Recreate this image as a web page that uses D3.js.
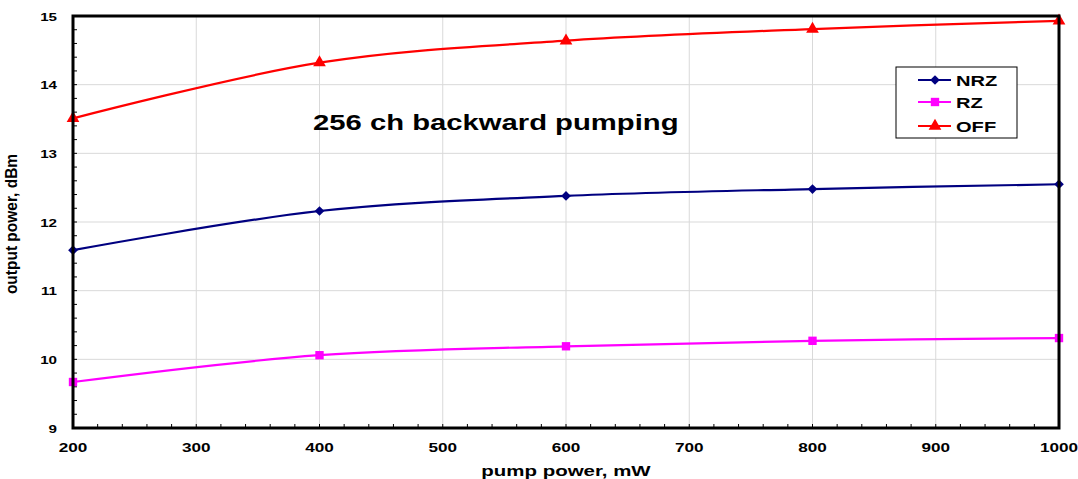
<!DOCTYPE html>
<html>
<head>
<meta charset="utf-8">
<script src="https://cdn.jsdelivr.net/npm/d3@7"></script>
<style>
  html, body { margin: 0; padding: 0; background: #fff; }
  svg { display: block; }
  text { font-family: "Liberation Sans", Arial, sans-serif; font-weight: bold; fill: #000; }
</style>
</head>
<body>
<svg id="chart" width="1078" height="479"></svg>
<script>
// ---- data ----
const pumpPower = [200, 400, 600, 800, 1000];
const nrzValues = [11.59, 12.16, 12.38, 12.48, 12.55];
const rzValues  = [9.67, 10.06, 10.19, 10.27, 10.31];
const offValues = [13.51, 14.32, 14.64, 14.81, 14.93];
const seriesNames = ["NRZ", "RZ", "OFF"];
const xTicks = [200, 300, 400, 500, 600, 700, 800, 900, 1000];
const yTicks = [9, 10, 11, 12, 13, 14, 15];
const annotation = "256 ch backward pumping";
const xTitle = "pump power, mW";
const yTitle = "output power, dBm";

// ---- layout ----
const svg = d3.select("#chart");
const pLeft = 73, pRight = 1059, pTop = 16, pBottom = 428;
const sx = 1.32; // horizontal stretch of the original picture's text

const x = d3.scaleLinear().domain([200, 1000]).range([pLeft, pRight]);
const y = d3.scaleLinear().domain([9, 15]).range([pBottom, pTop]);

const colors = { NRZ: "#000080", RZ: "#ff00ff", OFF: "#ff0000" };
const series = [
  { name: seriesNames[0], values: nrzValues, symbol: d3.symbolDiamond2, size: 60 },
  { name: seriesNames[1], values: rzValues,  symbol: d3.symbolSquare,  size: 70 },
  { name: seriesNames[2], values: offValues, symbol: d3.symbolTriangle, size: 70 }
];

// grid
const grid = svg.append("g");
grid.selectAll("line.v").data(xTicks.slice(1, -1)).enter().append("line")
  .attr("x1", d => x(d)).attr("x2", d => x(d)).attr("y1", pTop).attr("y2", pBottom)
  .attr("stroke", "#d9d9d9").attr("stroke-width", 1);
grid.selectAll("line.h").data(yTicks.slice(1, -1)).enter().append("line")
  .attr("x1", pLeft).attr("x2", pRight).attr("y1", d => y(d)).attr("y2", d => y(d))
  .attr("stroke", "#d9d9d9").attr("stroke-width", 1);

// minor ticks (inward)
const xMinor = d3.range(200, 1000.1, 20);
const yMinor = d3.range(9, 15.01, 0.2);
svg.append("g").selectAll("line").data(xMinor).enter().append("line")
  .attr("x1", d => x(d)).attr("x2", d => x(d)).attr("y1", pBottom).attr("y2", pBottom - 4)
  .attr("stroke", "#000").attr("stroke-width", 1);
svg.append("g").selectAll("line").data(yMinor).enter().append("line")
  .attr("x1", pLeft).attr("x2", pLeft + 4).attr("y1", d => y(d)).attr("y2", d => y(d))
  .attr("stroke", "#000").attr("stroke-width", 1);

// tick labels
svg.append("g").selectAll("text").data(xTicks).enter().append("text")
  .attr("text-anchor", "middle")
  .attr("font-size", 13)
  .attr("transform", d => `translate(${x(d)},452) scale(${sx},1)`)
  .text(d => d);
svg.append("g").selectAll("text").data(yTicks).enter().append("text")
  .attr("text-anchor", "end")
  .attr("font-size", 11.5)
  .attr("transform", d => `translate(57,${y(d) + 4.5}) scale(${sx},1)`)
  .text(d => d);

// axis titles
svg.append("text").attr("text-anchor", "middle").attr("font-size", 15.5)
  .attr("transform", `translate(566,476) scale(${sx},1)`).text(xTitle);
svg.append("text").attr("text-anchor", "middle").attr("font-size", 15.5)
  .attr("transform", `translate(17,224) rotate(-90) scale(1,${sx * 0.8})`).text(yTitle);

// series lines
const line = d3.line().x(d => x(d[0])).y(d => y(d[1])).curve(d3.curveCardinal.tension(0));
series.forEach(s => {
  const pts = pumpPower.map((p, i) => [p, s.values[i]]);
  svg.append("path").datum(pts).attr("d", line)
    .attr("fill", "none").attr("stroke", colors[s.name]).attr("stroke-width", 2.2);
  svg.append("g").selectAll("path").data(pts).enter().append("path")
    .attr("d", d3.symbol().type(s.symbol).size(s.size))
    .attr("transform", d => `translate(${x(d[0])},${y(d[1])})`)
    .attr("fill", colors[s.name]);
});

// plot border
svg.append("rect").attr("x", pLeft).attr("y", pTop)
  .attr("width", pRight - pLeft).attr("height", pBottom - pTop)
  .attr("fill", "none").attr("stroke", "#000").attr("stroke-width", 3);

// annotation
svg.append("text").attr("font-size", 22.5)
  .attr("transform", `translate(313,130) scale(1.30,1)`).text(annotation);

// legend
const lg = svg.append("g");
lg.append("rect").attr("x", 896).attr("y", 67).attr("width", 121).attr("height", 71)
  .attr("fill", "#fff").attr("stroke", "#000").attr("stroke-width", 1);
const legY = [80, 102, 126];
series.forEach((s, i) => {
  lg.append("line").attr("x1", 918).attr("x2", 951).attr("y1", legY[i]).attr("y2", legY[i])
    .attr("stroke", colors[s.name]).attr("stroke-width", 2);
  lg.append("path").attr("d", d3.symbol().type(s.symbol).size(s.size))
    .attr("transform", `translate(935,${legY[i]})`).attr("fill", colors[s.name]);
  lg.append("text").attr("font-size", 15)
    .attr("transform", `translate(956,${legY[i] + 5.5}) scale(1.34,1)`).text(s.name);
});
</script>
</body>
</html>
